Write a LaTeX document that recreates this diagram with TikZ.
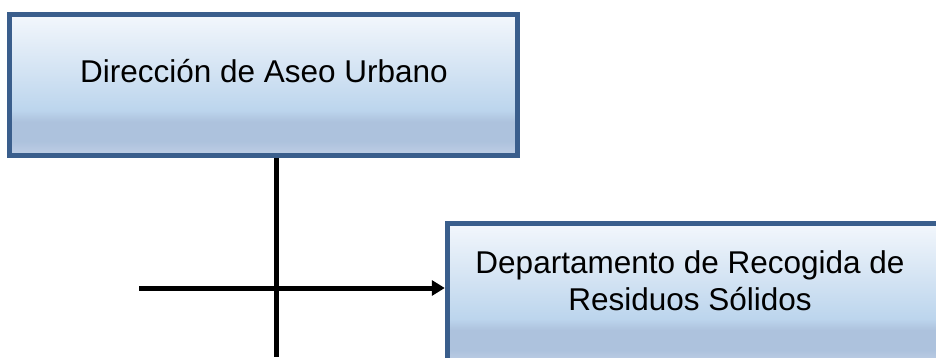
\documentclass[tikz,border=0pt]{standalone}
\usepackage{fontspec}
\setmainfont{Liberation Sans}
\usepackage{xcolor}
\usetikzlibrary{positioning,arrows.meta,calc}

\definecolor{bordeazul}{HTML}{3A5E8C}
\definecolor{azulpie}{HTML}{C0CFE6}
\definecolor{azulbanda}{HTML}{ADC2DD}
\definecolor{azulmedio}{HTML}{BCD5ED}
\definecolor{azulclaro}{HTML}{D3E3F3}
\definecolor{azultope}{HTML}{F3F7FC}
\pgfdeclareverticalshading{cajaazul}{100bp}{color(0bp)=(azulpie); color(25bp)=(azulpie); color(30bp)=(azulbanda); color(37bp)=(azulbanda); color(41bp)=(azulmedio); color(55bp)=(azulclaro); color(75bp)=(azultope); color(100bp)=(azultope)}

\begin{document}
\begin{tikzpicture}[
    x=1pt, y=-1pt,
    font=\fontsize{31.5}{37}\selectfont,
    unidad/.style={draw=bordeazul, line width=5pt, shading=cajaazul, minimum width=508pt, minimum height=141pt, inner sep=0pt},
    texto/.style={inner sep=0pt, align=center, anchor=base},
    enlace/.style={line width=5pt, black},
    flujo/.style={enlace, -{Triangle[length=13pt, width=15pt]}},
]
    \useasboundingbox (0,0) rectangle (936,358);
    \clip (0,0) rectangle (936,358);
    % cajas
    \node[unidad] (direccion) at (263.6,84.9) {};
    \node[unidad, minimum width=493pt] (depto) at (693.8,293.5) {};
    \node[texto] (tdireccion) at (264,83) {Dirección de Aseo Urbano};
    \node[texto] (tdepto) at (690,310) {Departamento de Recogida de\\Residuos Sólidos};
    % conectores
    \coordinate (finvert) at (276.5,357);
    \coordinate (inicio) at (139,288);
    \draw[enlace] (direccion.south -| finvert) -- (finvert);
    \draw[flujo] (inicio) -- (inicio -| depto.west);
\end{tikzpicture}
\end{document}
